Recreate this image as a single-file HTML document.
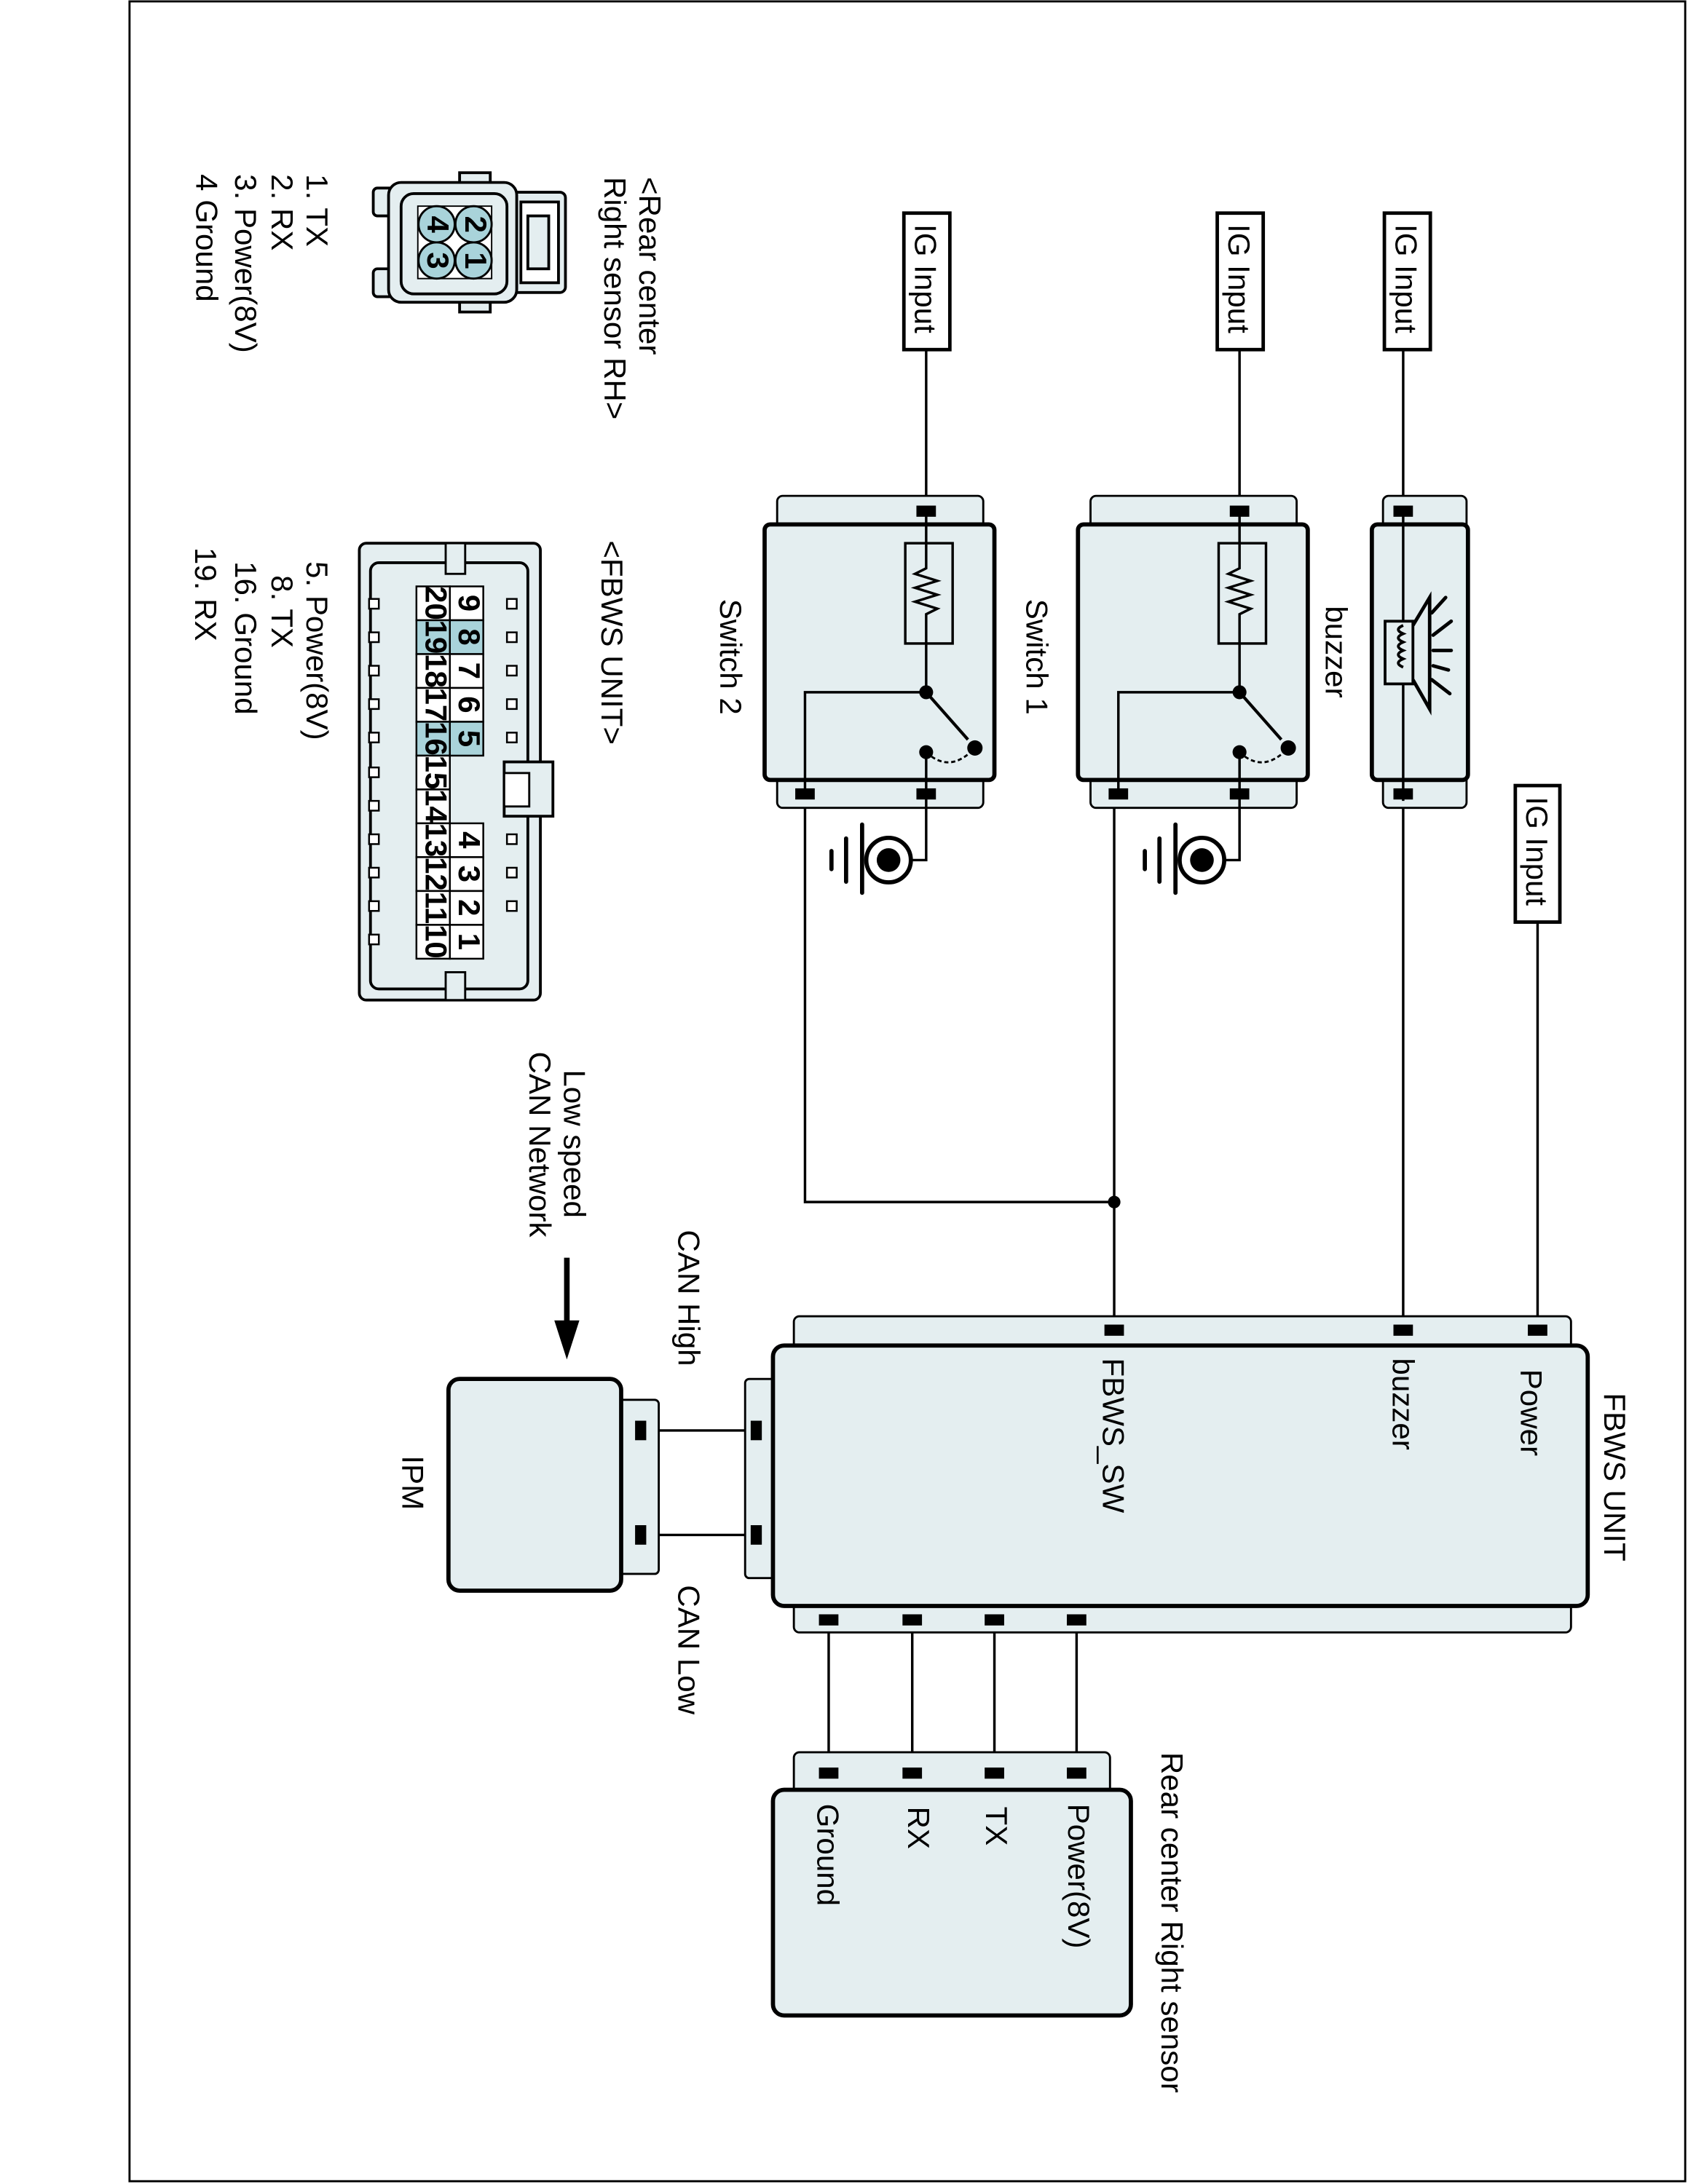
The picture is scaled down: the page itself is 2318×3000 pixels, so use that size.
<!DOCTYPE html>
<html><head><meta charset="utf-8"><style>
html,body{margin:0;padding:0;background:#fff;}
svg{display:block;}
text{font-family:"Liberation Sans",Arial,sans-serif;font-size:22px;fill:#000;}
</style></head><body>
<svg width="2318" height="3000" viewBox="0 0 1212 1568" preserveAspectRatio="none" xmlns="http://www.w3.org/2000/svg">
<rect x="93" y="1" width="1117" height="1565" fill="#fff" stroke="#000" stroke-width="1.5"/>

<g stroke="#000" stroke-width="1.8" fill="none">
<line x1="665" y1="252" x2="665" y2="367"/>
<line x1="890" y1="252" x2="890" y2="367"/>
<line x1="1007.5" y1="252" x2="1007.5" y2="955"/>
<line x1="1104" y1="662" x2="1104" y2="955"/>
<line x1="800" y1="570" x2="800" y2="955"/>
<polyline points="578,570 578,863 800,863"/>
<line x1="595" y1="1163" x2="595" y2="1273"/>
<line x1="655" y1="1163" x2="655" y2="1273"/>
<line x1="714" y1="1163" x2="714" y2="1273"/>
<line x1="773" y1="1163" x2="773" y2="1273"/>
<line x1="460" y1="1027" x2="543" y2="1027"/>
<line x1="460" y1="1102" x2="543" y2="1102"/>
</g>
<circle cx="800" cy="863" r="4.5"/>
<g fill="#fff" stroke="#000" stroke-width="2.5">
<rect x="649" y="153" width="33" height="98"/>
<rect x="874" y="153" width="33" height="98"/>
<rect x="994" y="153" width="33" height="98"/>
<rect x="1088" y="564" width="32" height="98"/>
</g>
<text transform="translate(657,161) rotate(90)">IG Input</text>
<text transform="translate(882,161) rotate(90)">IG Input</text>
<text transform="translate(1002,161) rotate(90)">IG Input</text>
<text transform="translate(1096,572) rotate(90)">IG Input</text>

<g id="sw2">
<rect x="558" y="356" width="148" height="224" rx="4" fill="#e4eef0" stroke="#000" stroke-width="1.5"/>
<rect x="549" y="376.5" width="165" height="183.5" rx="4" fill="#e4eef0" stroke="#000" stroke-width="3"/>
<rect x="650" y="390" width="34" height="72" fill="none" stroke="#000" stroke-width="1.8"/>
<polyline points="665,367 665,408 657,412 673,417 657,422 673,427 657,432 673,437 665,441 665,497" fill="none" stroke="#000" stroke-width="1.8"/>
<polyline points="665,497 578,497 578,570" fill="none" stroke="#000" stroke-width="1.8"/>
<line x1="665" y1="497" x2="695" y2="531" stroke="#000" stroke-width="2.2"/>
<path d="M665,540 Q682,556 700,537" fill="none" stroke="#000" stroke-width="1.5" stroke-dasharray="3,2"/>
<circle cx="665" cy="497" r="5"/><circle cx="700" cy="537" r="5.5"/><circle cx="665" cy="540" r="5"/>
<polyline points="665,540 665,617.5 655,617.5" fill="none" stroke="#000" stroke-width="1.8"/>
<circle cx="638" cy="617.5" r="16" fill="#fff" stroke="#000" stroke-width="3"/>
<circle cx="638" cy="617.5" r="8.5"/>
<line x1="619" y1="592" x2="619" y2="641" stroke="#000" stroke-width="3" stroke-linecap="round"/>
<line x1="607.5" y1="602" x2="607.5" y2="633" stroke="#000" stroke-width="3" stroke-linecap="round"/>
<line x1="597" y1="611" x2="597" y2="624" stroke="#000" stroke-width="3" stroke-linecap="round"/>
<rect x="658" y="363" width="14" height="8"/>
<rect x="658" y="566" width="14" height="8"/>
<rect x="571" y="566" width="14" height="8"/>
</g>
<use href="#sw2" transform="translate(225,0)"/>
<text transform="translate(517,430) rotate(90)">Switch 2</text>
<text transform="translate(737,430) rotate(90)">Switch 1</text>
<text transform="translate(952,435) rotate(90)">buzzer</text>

<rect x="993" y="356" width="60" height="224" rx="4" fill="#e4eef0" stroke="#000" stroke-width="1.5"/>
<rect x="985" y="376.5" width="69" height="183.5" rx="4" fill="#e4eef0" stroke="#000" stroke-width="3"/>
<line x1="1007.5" y1="365" x2="1007.5" y2="575" stroke="#000" stroke-width="1.8"/>
<rect x="994.5" y="446" width="20" height="45" fill="#e4eef0" stroke="#000" stroke-width="2"/>
<path d="M1007.5,449 q-7,3 0,6 q-7,3 0,6 q-7,3 0,6 q-7,3 0,6 q-7,3 0,6" fill="none" stroke="#000" stroke-width="2"/>
<polyline points="1014.5,449 1026.5,429 1026.5,509 1014.5,488" fill="none" stroke="#000" stroke-width="2.5"/>
<g stroke="#000" stroke-width="2.5" stroke-linecap="round">
<line x1="1028" y1="440" x2="1038" y2="429"/>
<line x1="1029" y1="456" x2="1042" y2="446"/>
<line x1="1029" y1="467" x2="1042" y2="467"/>
<line x1="1029" y1="478" x2="1040" y2="481"/>
<line x1="1028" y1="488" x2="1041" y2="498"/>
</g>
<rect x="1000.5" y="363" width="14" height="8"/>
<rect x="1000.5" y="566" width="14" height="8"/>

<rect x="570" y="945" width="558" height="28" rx="4" fill="#e4eef0" stroke="#000" stroke-width="1.5"/>
<rect x="570" y="1146" width="558" height="26" rx="4" fill="#e4eef0" stroke="#000" stroke-width="1.5"/>
<rect x="535" y="990" width="24" height="143" rx="3" fill="#e4eef0" stroke="#000" stroke-width="1.5"/>
<rect x="555" y="966" width="585" height="187" rx="8" fill="#e4eef0" stroke="#000" stroke-width="3"/>
<rect x="793" y="951" width="14" height="8"/>
<rect x="1000.5" y="951" width="14" height="8"/>
<rect x="1097" y="951" width="14" height="8"/>
<rect x="588" y="1159" width="14" height="8"/>
<rect x="648" y="1159" width="14" height="8"/>
<rect x="707" y="1159" width="14" height="8"/>
<rect x="766" y="1159" width="14" height="8"/>
<rect x="539" y="1020" width="8" height="14"/>
<rect x="539" y="1095" width="8" height="14"/>
<text transform="translate(1152,1000) rotate(90)">FBWS UNIT</text>
<text transform="translate(1092,983) rotate(90)">Power</text>
<text transform="translate(1000,975) rotate(90)">buzzer</text>
<text transform="translate(792,975) rotate(90)">FBWS_SW</text>

<rect x="440" y="1005" width="33" height="125" rx="3" fill="#e4eef0" stroke="#000" stroke-width="1.5"/>
<rect x="322" y="990" width="124" height="152" rx="8" fill="#e4eef0" stroke="#000" stroke-width="3"/>
<rect x="456" y="1020" width="8" height="14"/>
<rect x="456" y="1095" width="8" height="14"/>
<text transform="translate(289,1045) rotate(90)">IPM</text>
<text transform="translate(487,883) rotate(90)">CAN High</text>
<text transform="translate(487,1138) rotate(90)">CAN Low</text>
<text transform="translate(405,768) rotate(90)">Low speed</text>
<text transform="translate(380,755) rotate(90)">CAN Network</text>
<line x1="407" y1="903" x2="407" y2="950" stroke="#000" stroke-width="4"/>
<polygon points="398,948 416,948 407,976"/>

<rect x="570" y="1258" width="227" height="34" rx="4" fill="#e4eef0" stroke="#000" stroke-width="1.5"/>
<rect x="555" y="1285" width="257" height="162" rx="8" fill="#e4eef0" stroke="#000" stroke-width="3"/>
<rect x="588" y="1269" width="14" height="8"/>
<rect x="648" y="1269" width="14" height="8"/>
<rect x="707" y="1269" width="14" height="8"/>
<rect x="766" y="1269" width="14" height="8"/>
<text transform="translate(834,1258) rotate(90)">Rear center Right sensor</text>
<text transform="translate(767,1295) rotate(90)">Power(8V)</text>
<text transform="translate(708,1297) rotate(90)">TX</text>
<text transform="translate(652,1297) rotate(90)">RX</text>
<text transform="translate(587,1295) rotate(90)">Ground</text>

<text transform="translate(459,127) rotate(90)">&lt;Rear center</text>
<text transform="translate(434,127) rotate(90)">Right sensor RH&gt;</text>
<text transform="translate(220,125) rotate(90)">1. TX</text>
<text transform="translate(195,125) rotate(90)">2. RX</text>
<text transform="translate(169,125) rotate(90)">3. Power(8V)</text>
<text transform="translate(141,125) rotate(90)">4  Ground</text>
<text transform="translate(432,388) rotate(90)">&lt;FBWS UNIT&gt;</text>
<text transform="translate(220,403) rotate(90)">5. Power(8V)</text>
<text transform="translate(195,413) rotate(90)">8. TX</text>
<text transform="translate(169,403) rotate(90)">16. Ground</text>
<text transform="translate(140,393) rotate(90)">19. RX</text>

<g stroke="#000" stroke-width="2" fill="#e4eef0">
<rect x="268" y="135" width="20" height="20" rx="3"/>
<rect x="268" y="193" width="20" height="20" rx="3"/>
<rect x="330" y="124" width="22" height="100"/>
<rect x="365" y="138" width="41" height="72" rx="4"/>
<rect x="279" y="131" width="92" height="86" rx="9"/>
<rect x="288" y="139" width="76" height="72" rx="9"/>
<rect x="374" y="145" width="27" height="58" fill="#fff"/>
<rect x="379" y="155" width="15" height="38"/>
</g>
<rect x="300" y="148" width="53" height="52" fill="#fff" stroke="#000" stroke-width="1"/>
<g fill="#a9d3da" stroke="#000" stroke-width="1.5">
<circle cx="313.5" cy="161" r="13"/><circle cx="340" cy="161" r="13"/>
<circle cx="313.5" cy="187" r="13"/><circle cx="340" cy="187" r="13"/>
</g>
<g style="font-size:18px;font-weight:bold">
<text transform="translate(307,155) rotate(90)">4</text>
<text transform="translate(334,155) rotate(90)">2</text>
<text transform="translate(307,181) rotate(90)">3</text>
<text transform="translate(334,181) rotate(90)">1</text>
</g>

<rect x="258" y="390" width="130" height="328" rx="5" fill="#e4eef0" stroke="#000" stroke-width="2"/>
<rect x="266" y="404" width="113" height="306" rx="6" fill="#e4eef0" stroke="#000" stroke-width="2"/>
<rect x="320" y="390" width="14" height="22" fill="#e4eef0" stroke="#000" stroke-width="1.5"/>
<rect x="320" y="698" width="14" height="20" fill="#e4eef0" stroke="#000" stroke-width="1.5"/>
<rect x="362" y="547" width="35" height="39" fill="#e4eef0" stroke="#000" stroke-width="2"/>
<rect x="362" y="555" width="18" height="24" fill="#fff" stroke="#000" stroke-width="1.5"/>
<g fill="#fff" stroke="#000" stroke-width="1.3">
<rect x="265" y="430" width="7" height="7"/><rect x="265" y="454" width="7" height="7"/><rect x="265" y="478" width="7" height="7"/><rect x="265" y="502" width="7" height="7"/><rect x="265" y="526" width="7" height="7"/><rect x="265" y="551" width="7" height="7"/><rect x="265" y="575" width="7" height="7"/><rect x="265" y="599" width="7" height="7"/><rect x="265" y="623" width="7" height="7"/><rect x="265" y="647" width="7" height="7"/><rect x="265" y="671" width="7" height="7"/>
<rect x="364" y="430" width="7" height="7"/><rect x="364" y="454" width="7" height="7"/><rect x="364" y="478" width="7" height="7"/><rect x="364" y="502" width="7" height="7"/><rect x="364" y="526" width="7" height="7"/><rect x="364" y="599" width="7" height="7"/><rect x="364" y="623" width="7" height="7"/><rect x="364" y="647" width="7" height="7"/>
</g>
<g stroke="#000" stroke-width="1.3">
<rect x="299" y="421" width="24" height="24.3" fill="#fff"/>
<rect x="299" y="445.3" width="24" height="24.3" fill="#a9d3da"/>
<rect x="299" y="469.6" width="24" height="24.3" fill="#fff"/>
<rect x="299" y="493.9" width="24" height="24.3" fill="#fff"/>
<rect x="299" y="518.2" width="24" height="24.3" fill="#a9d3da"/>
<rect x="299" y="542.5" width="24" height="24.3" fill="#fff"/>
<rect x="299" y="566.8" width="24" height="24.3" fill="#fff"/>
<rect x="299" y="591.1" width="24" height="24.3" fill="#fff"/>
<rect x="299" y="615.4" width="24" height="24.3" fill="#fff"/>
<rect x="299" y="639.7" width="24" height="24.3" fill="#fff"/>
<rect x="299" y="664" width="24" height="24.3" fill="#fff"/>
<rect x="323" y="421" width="24" height="24.3" fill="#fff"/>
<rect x="323" y="445.3" width="24" height="24.3" fill="#a9d3da"/>
<rect x="323" y="469.6" width="24" height="24.3" fill="#fff"/>
<rect x="323" y="493.9" width="24" height="24.3" fill="#fff"/>
<rect x="323" y="518.2" width="24" height="24.3" fill="#a9d3da"/>
<rect x="323" y="591.1" width="24" height="24.3" fill="#fff"/>
<rect x="323" y="615.4" width="24" height="24.3" fill="#fff"/>
<rect x="323" y="639.7" width="24" height="24.3" fill="#fff"/>
<rect x="323" y="664" width="24" height="24.3" fill="#fff"/>
</g>
<g style="font-size:16px;font-weight:bold" text-anchor="middle">
<text transform="translate(305.5,433) rotate(90)">20</text>
<text transform="translate(305.5,457.3) rotate(90)">19</text>
<text transform="translate(305.5,481.6) rotate(90)">18</text>
<text transform="translate(305.5,505.9) rotate(90)">17</text>
<text transform="translate(305.5,530.2) rotate(90)">16</text>
<text transform="translate(305.5,554.5) rotate(90)">15</text>
<text transform="translate(305.5,578.8) rotate(90)">14</text>
<text transform="translate(305.5,603.1) rotate(90)">13</text>
<text transform="translate(305.5,627.4) rotate(90)">12</text>
<text transform="translate(305.5,651.7) rotate(90)">11</text>
<text transform="translate(305.5,676) rotate(90)">10</text>
<text transform="translate(329.5,433) rotate(90)">9</text>
<text transform="translate(329.5,457.3) rotate(90)">8</text>
<text transform="translate(329.5,481.6) rotate(90)">7</text>
<text transform="translate(329.5,505.9) rotate(90)">6</text>
<text transform="translate(329.5,530.2) rotate(90)">5</text>
<text transform="translate(329.5,603.1) rotate(90)">4</text>
<text transform="translate(329.5,627.4) rotate(90)">3</text>
<text transform="translate(329.5,651.7) rotate(90)">2</text>
<text transform="translate(329.5,676) rotate(90)">1</text>
</g>
</svg>
</body></html>
